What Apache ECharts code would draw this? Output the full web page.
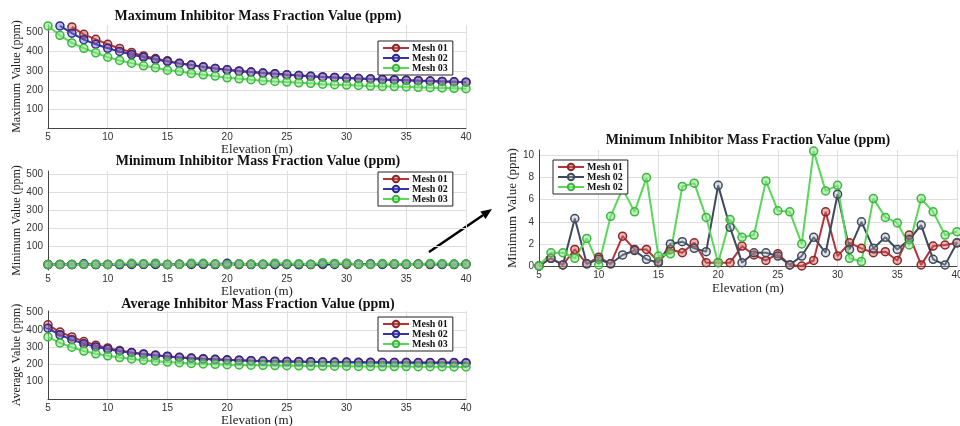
<!DOCTYPE html>
<html>
<head>
<meta charset="utf-8">
<script src="https://cdn.jsdelivr.net/npm/echarts@6/dist/echarts.min.js"></script>
<style>html,body{margin:0;padding:0;background:#fff;}#c{width:960px;height:426px;}</style>
</head>
<body>
<div id="c"></div>
<script>
// ---------- data ----------
const elevation = [5,6,7,8,9,10,11,12,13,14,15,16,17,18,19,20,21,22,23,24,25,26,27,28,29,30,31,32,33,34,35,36,37,38,39,40];

const maxMesh01 = [null,null,530,491,465,439,417,396,378,364,352,340,330,321,312,305,299,293,288,284,279,275,271,268,265,262,259,257,254,252,250,248,246,244,242,240];
const maxMesh02 = [null,535,497,463,439,418,401,385,371,359,349,338,330,320,312,305,298,293,288,284,279,275,271,268,265,262,259,257,254,252,250,248,246,244,242,240];
const maxMesh03 = [535,486,446,418,394,371,354,340,326,316,303,297,286,279,272,263,258,253,248,244,241,237,234,230,227,225,223,220,218,217,215,213,211,210,208,206];

const minMesh01 = [0,0.7,0.1,1.5,0.2,0.8,0.2,2.7,1.5,1.5,0.4,1.5,1.2,2.1,0.3,0.3,0.3,1.8,1.0,0.5,1.1,0.1,0.0,0.5,4.9,0.9,2.1,1.6,1.2,1.3,0.5,2.8,0.1,1.8,1.9,2.1];
const minMesh02 = [0,0.7,0.1,4.3,0.2,0.6,0.2,1.0,1.4,0.6,0.3,2.0,2.2,1.6,1.3,7.3,3.5,0.3,1.2,1.2,0.9,0.1,0.9,2.6,1.2,6.5,1.5,4.0,1.6,2.6,1.5,2.4,3.7,0.6,0.1,2.1];
const minMesh03 = [0,1.2,1.2,0.7,2.5,0.1,4.5,7.0,4.9,8.0,0.9,1.1,7.2,7.5,4.4,0.3,4.2,2.6,2.8,7.7,5.0,4.9,2.0,10.4,6.8,7.3,0.7,0.4,6.1,4.4,3.9,1.9,6.1,4.9,2.8,3.1];

const avgMesh01 = [430,388,360,333,312,296,281,270,261,254,248,242,237,233,230,227,225,222,220,219,218,217,216,215,214,214,213,213,212,212,212,211,211,211,211,210];
const avgMesh02 = [410,372,344,320,302,288,277,268,260,253,247,241,236,232,229,226,224,222,220,218,217,216,215,214,213,213,212,212,211,211,211,210,210,210,210,209];
const avgMesh03 = [360,325,300,278,262,250,240,232,225,219,214,210,206,203,201,199,197,196,195,194,193,192,191,191,190,190,189,189,188,188,188,187,187,187,186,186];

const ppmTicks = [100,200,300,400,500];
const zoomTicks = [0,2,4,6,8,10];

const titles = [
  'Maximum Inhibitor Mass Fraction Value (ppm)',
  'Minimum Inhibitor Mass Fraction Value (ppm)',
  'Average Inhibitor Mass Fraction Value (ppm)',
  'Minimum Inhibitor Mass Fraction Value (ppm)'
];
const yNames = ['Maximum Value (ppm)','Minimum Value (ppm)','Average Value (ppm)','Minimum Value (ppm)'];
const xName = 'Elevation (m)';

// ---------- style ----------
const SERIF = 'Liberation Serif, Times New Roman, serif';
const SANS = 'Liberation Sans, Arial, sans-serif';
const COL = {
  r: {line:'#b8323a', edge:'#8a2828', fill:'rgba(205,95,95,0.45)'},
  b: {line:'#3434a8', edge:'#2a2a8a', fill:'rgba(110,110,215,0.45)'},
  g: {line:'#58d858', edge:'#3db53d', fill:'rgba(140,228,140,0.55)'},
  s: {line:'#3e4a5c', edge:'#3e4a5c', fill:'rgba(165,175,190,0.35)'}
};

function mk(name, arr, c, gi) {
  return {
    type:'line', name, xAxisIndex:gi, yAxisIndex:gi,
    data: elevation.map((e,i)=>[e, arr[i]]),
    symbol:'circle', symbolSize:8, showSymbol:true,
    lineStyle:{color:c.line, width:2},
    itemStyle:{color:c.fill, borderColor:c.edge, borderWidth:1.5},
    emphasis:{disabled:true}, animation:false
  };
}

const grids = [
  {left:48, right:494, top:25, height:103, outerBoundsMode:'none', containLabel:false},
  {left:48, right:494, top:171, height:99, outerBoundsMode:'none', containLabel:false},
  {left:48, right:494, top:311, height:88, outerBoundsMode:'none', containLabel:false},
  {left:539, right:3, top:150, height:116, outerBoundsMode:'none', containLabel:false}
];
const yRanges = [[0,540],[-30,520],[0,510],[0,10.5]];
const xNameGaps = [12,11,11,16];
const yNameGaps = [24,24,24,17];

const xAxes = grids.map((g,i)=>({
  type:'value', gridIndex:i, min:5, max:40, interval:5,
  name:xName, nameLocation:'middle', nameGap:xNameGaps[i],
  nameTextStyle:{fontFamily:SERIF, fontSize:13, color:'#222'},
  axisLine:{lineStyle:{color:'#444', width:1}},
  axisTick:{show:false},
  axisLabel:{fontFamily:SANS, fontSize:10, color:'#333', margin:4},
  splitLine:{show:true, lineStyle:{color:'#dedede', width:1}}
}));
const yAxes = grids.map((g,i)=>{
  const tv = i===3 ? zoomTicks : ppmTicks;
  return {
    type:'value', gridIndex:i, min:yRanges[i][0], max:yRanges[i][1],
    name:yNames[i], nameLocation:'middle', nameGap:yNameGaps[i],
    nameTextStyle:{fontFamily:SERIF, fontSize:i===3?13:12, color:'#222'},
    axisLine:{show:true, lineStyle:{color:'#444', width:1}},
    axisTick:{show:false, customValues:tv},
    axisLabel:{fontFamily:SANS, fontSize:10, color:'#333', margin:5, customValues:tv},
    splitLine:{show:true, lineStyle:{color:'#dedede', width:1}}
  };
});

const titleCenters = [[258,9],[258,154],[258,297],[748,133]];
const title = titles.map((t,i)=>({
  text:t, left:titleCenters[i][0], top:titleCenters[i][1], textAlign:'center', padding:0,
  textStyle:{fontFamily:SERIF, fontSize:14, fontWeight:'bold', color:'#111'}
}));

function legend(names, left, top) {
  return {
    data:names, orient:'vertical', left, top, itemGap:0, itemWidth:26, itemHeight:8,
    padding:[2,5,2,4], borderColor:'#222', borderWidth:1, backgroundColor:'#fff',
    selectedMode:false,
    formatter: n => n.slice(2),
    textStyle:{fontFamily:SERIF, fontSize:10, fontWeight:'bold', color:'#111', lineHeight:10, padding:[0,0,0,-2]}
  };
}

const series = [
  mk('A|Mesh 01', maxMesh01, COL.r, 0), mk('A|Mesh 02', maxMesh02, COL.b, 0), mk('A|Mesh 03', maxMesh03, COL.g, 0),
  mk('B|Mesh 01', minMesh01, COL.r, 1), mk('B|Mesh 02', minMesh02, COL.b, 1), mk('B|Mesh 03', minMesh03, COL.g, 1),
  mk('C|Mesh 01', avgMesh01, COL.r, 2), mk('C|Mesh 02', avgMesh02, COL.b, 2), mk('C|Mesh 03', avgMesh03, COL.g, 2),
  mk('D|Mesh 01', minMesh01, COL.r, 3), mk('D|Mesh 02', minMesh02, COL.s, 3), mk('E|Mesh 02', minMesh03, COL.g, 3)
];

// arrow annotation
const ax1=429, ay1=252, ax2=492, ay2=209;
const L=Math.hypot(ax2-ax1, ay2-ay1), ux=(ax2-ax1)/L, uy=(ay2-ay1)/L;
const bx=ax2-11*ux, by=ay2-11*uy, px=-uy*4.5, py=ux*4.5;

const option = {
  backgroundColor:'#fff',
  animation:false,
  title,
  grid:grids,
  xAxis:xAxes,
  yAxis:yAxes,
  legend:[
    legend(['A|Mesh 01','A|Mesh 02','A|Mesh 03'], 378, 41),
    legend(['B|Mesh 01','B|Mesh 02','B|Mesh 03'], 378, 172),
    legend(['C|Mesh 01','C|Mesh 02','C|Mesh 03'], 378, 317),
    legend(['D|Mesh 01','D|Mesh 02','E|Mesh 02'], 553, 160)
  ],
  series,
  graphic:[
    {type:'line', shape:{x1:ax1,y1:ay1,x2:bx,y2:by}, style:{stroke:'#000', lineWidth:2.5}},
    {type:'polygon', shape:{points:[[ax2,ay2],[bx+px,by+py],[bx-px,by-py]]}, style:{fill:'#000'}}
  ]
};
const chart = echarts.init(document.getElementById('c'), null, {renderer:'canvas'});
chart.setOption(option);
</script>
</body>
</html>
